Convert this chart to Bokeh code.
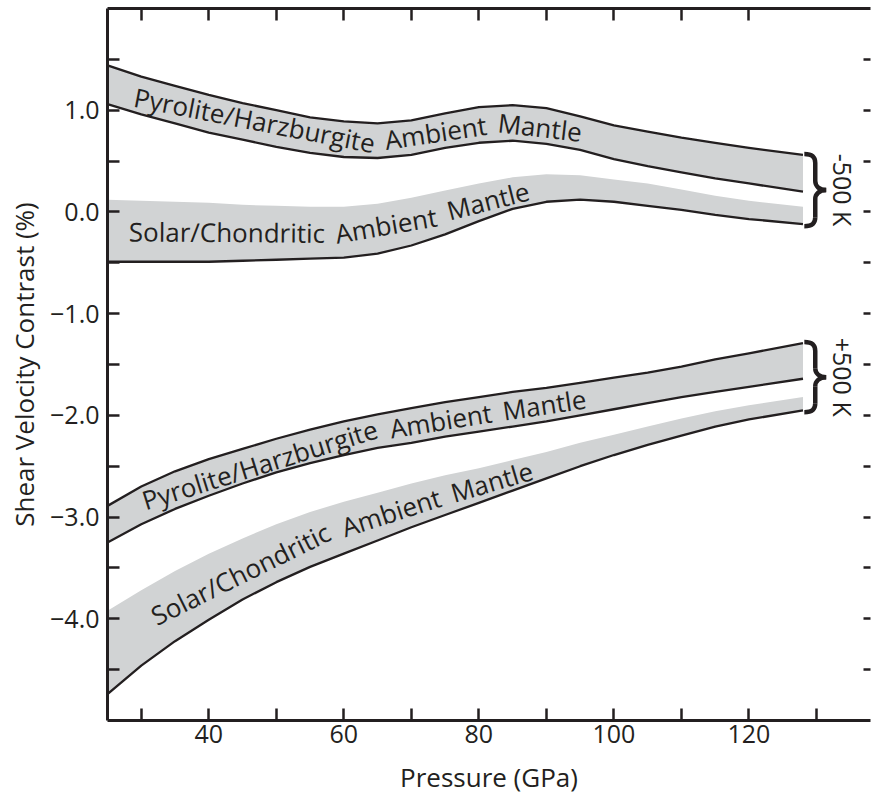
import numpy as np
from bokeh.plotting import figure
from bokeh.models import (LinearAxis, FixedTicker, CustomJSTickFormatter, Range1d,
                          ColumnDataSource, CustomLabelingPolicy)
from bokeh.embed import file_html
from bokeh.resources import INLINE
from bokeh.core.properties import value

FONT = "Open Sans"
INK = "#231f20"
GRAY = "#d1d3d4"

# ---------------- data ----------------
pressure = [25, 30, 35, 40, 45, 50, 55, 60, 65, 70, 75, 80, 85, 90, 95, 100, 105, 110, 115, 120, 128]

# -500 K, Pyrolite/Harzburgite ambient mantle
cold_pyr_upper = [1.44, 1.33, 1.24, 1.15, 1.07, 1.00, 0.93, 0.89, 0.87, 0.90, 0.97, 1.03, 1.05, 1.02, 0.94, 0.85, 0.79, 0.73, 0.68, 0.63, 0.56]
cold_pyr_lower = [1.06, 0.96, 0.87, 0.78, 0.71, 0.64, 0.58, 0.54, 0.53, 0.56, 0.63, 0.68, 0.70, 0.67, 0.61, 0.52, 0.45, 0.39, 0.33, 0.28, 0.20]
# -500 K, Solar/Chondritic ambient mantle
cold_sol_upper = [0.12, 0.11, 0.10, 0.09, 0.07, 0.06, 0.05, 0.05, 0.08, 0.14, 0.21, 0.28, 0.34, 0.37, 0.36, 0.32, 0.28, 0.22, 0.16, 0.11, 0.05]
cold_sol_lower = [-0.49, -0.49, -0.49, -0.49, -0.48, -0.47, -0.46, -0.45, -0.41, -0.33, -0.22, -0.09, 0.03, 0.10, 0.12, 0.10, 0.06, 0.02, -0.03, -0.07, -0.12]
# +500 K, Pyrolite/Harzburgite ambient mantle
hot_pyr_upper = [-2.89, -2.70, -2.55, -2.43, -2.33, -2.23, -2.14, -2.06, -1.99, -1.93, -1.87, -1.82, -1.77, -1.73, -1.68, -1.63, -1.58, -1.52, -1.45, -1.39, -1.29]
hot_pyr_lower = [-3.25, -3.07, -2.92, -2.79, -2.67, -2.56, -2.47, -2.39, -2.32, -2.27, -2.21, -2.16, -2.11, -2.06, -2.00, -1.94, -1.88, -1.82, -1.77, -1.72, -1.64]
# +500 K, Solar/Chondritic ambient mantle
hot_sol_upper = [-3.92, -3.72, -3.53, -3.36, -3.21, -3.07, -2.95, -2.85, -2.76, -2.67, -2.59, -2.52, -2.44, -2.36, -2.27, -2.19, -2.11, -2.03, -1.96, -1.90, -1.82]
hot_sol_lower = [-4.74, -4.46, -4.22, -4.01, -3.81, -3.64, -3.49, -3.36, -3.23, -3.10, -2.98, -2.86, -2.74, -2.62, -2.50, -2.39, -2.29, -2.20, -2.11, -2.04, -1.95]

x_major_ticks = [40, 60, 80, 100, 120]
x_minor_ticks = [30, 50, 70, 90, 110, 130]
x_top_ticks = [30, 40, 50, 60, 70, 80, 90, 100, 110, 120]
y_major_ticks = [-4, -3, -2, -1, 0, 1]
y_minor_ticks = [-4.5, -3.5, -2.5, -1.5, -0.5, 0.5, 1.5]
y_right_ticks = [-4.5, -4, -3.5, -3, -2.5, -2, -1.5, -1, -0.5, 0, 0.5, 1, 1.5]

pyr_words = ["Pyrolite/Harzburgite", "Ambient", "Mantle"]
sol_words = ["Solar/Chondritic", "Ambient", "Mantle"]
bracket_texts = ["-500 K", "+500 K"]

# ---------------- layout ----------------
X0, X1, Y0, Y1 = 25, 138, -5, 2
W, H = 875, 797
ML, MR, MT, MB = 107, 0, 8, 76
PX_PER_P = (W - ML - MR) / (X1 - X0)
PX_PER_Y = (H - MT - MB) / (Y1 - Y0)

p = figure(width=W, height=H, x_range=Range1d(X0, X1), y_range=Range1d(Y0, Y1),
           output_backend="svg", toolbar_location=None,
           x_axis_location=None, y_axis_location=None,
           min_border_left=ML, min_border_right=MR, min_border_top=MT, min_border_bottom=MB)
p.outline_line_color = None
p.xgrid.visible = False
p.ygrid.visible = False
p.background_fill_color = "white"


def style_axis(ax, tick_in=12):
    ax.axis_line_color = INK
    ax.axis_line_width = 3
    ax.major_tick_line_color = INK
    ax.major_tick_line_width = 2.5
    ax.minor_tick_line_color = INK
    ax.minor_tick_line_width = 2.5
    ax.major_tick_in = tick_in
    ax.major_tick_out = 0
    ax.minor_tick_in = tick_in
    ax.minor_tick_out = 0
    ax.major_label_text_font = FONT
    ax.major_label_text_font_size = "25px"
    ax.major_label_text_color = INK
    ax.axis_label_text_font = FONT
    ax.axis_label_text_font_size = "26px"
    ax.axis_label_text_font_style = "normal"
    ax.axis_label_text_color = INK


def no_labels(ax):
    ax.major_label_policy = CustomLabelingPolicy(
        code="const all = [...indices]; for (const i of all) indices.unset(i); return indices;")
    ax.major_label_text_font_size = "1px"
    ax.major_label_standoff = 0


left = LinearAxis(ticker=FixedTicker(ticks=y_major_ticks, minor_ticks=y_minor_ticks),
                  formatter=CustomJSTickFormatter(code="return (tick < 0 ? '\u2212' : '') + Math.abs(tick).toFixed(1);"),
                  axis_label="Shear Velocity Contrast (%)")
style_axis(left)
left.major_label_standoff = 8
left.axis_label_standoff = 5
p.add_layout(left, "left")

bottom = LinearAxis(ticker=FixedTicker(ticks=x_major_ticks, minor_ticks=x_minor_ticks),
                    axis_label="Pressure (GPa)")
style_axis(bottom)
bottom.major_label_standoff = 4
bottom.axis_label_standoff = 13
p.add_layout(bottom, "below")

top = LinearAxis(ticker=FixedTicker(ticks=x_top_ticks, minor_ticks=[]))
style_axis(top)
no_labels(top)
p.add_layout(top, "above")

right = LinearAxis(ticker=FixedTicker(ticks=y_right_ticks, minor_ticks=[]))
style_axis(right, tick_in=7)
right.axis_line_color = None
no_labels(right)
p.add_layout(right, "right")

# ---------------- bands ----------------
bands = [
    (cold_pyr_lower, cold_pyr_upper, True),
    (cold_sol_lower, cold_sol_upper, False),
    (hot_pyr_lower, hot_pyr_upper, True),
    (hot_sol_lower, hot_sol_upper, False),
]
for lo, hi, upper_line in bands:
    p.varea(x=pressure, y1=lo, y2=hi, fill_color=GRAY, fill_alpha=1.0)
for lo, hi, upper_line in bands:
    p.line(pressure, lo, line_color=INK, line_width=2.3, line_join="round")
    if upper_line:
        p.line(pressure, hi, line_color=INK, line_width=2.3, line_join="round")


def place_words(words, spans, lo, hi):
    P = np.array(pressure, float)
    center = (np.array(lo, float) + np.array(hi, float)) / 2
    xs, ys, angs = [], [], []
    for a, b in spans:
        ya, yb = np.interp([a, b], P, center)
        xm = (a + b) / 2
        ym = 0.5 * (np.interp(xm, P, center) + (ya + yb) / 2)
        ang = float(np.arctan2((yb - ya) * PX_PER_Y, (b - a) * PX_PER_P))
        xs.append(xm); ys.append(float(ym)); angs.append(ang)
    return dict(x=xs, y=ys, angle=angs, text=list(words))


label_sets = [
    (pyr_words, [(28.4, 65.2), (65.9, 81.3), (82.8, 95.3)], cold_pyr_lower, cold_pyr_upper),
    (sol_words, [(27.6, 57.8), (58.5, 74.0), (75.0, 87.7)], cold_sol_lower, cold_sol_upper),
    (pyr_words, [(29.9, 65.2), (65.9, 82.8), (83.3, 96.1)], hot_pyr_lower, hot_pyr_upper),
    (sol_words, [(30.9, 58.5), (59.3, 74.7), (75.5, 88.3)], hot_sol_lower, hot_sol_upper),
]
for words, spans, lo, hi in label_sets:
    src = ColumnDataSource(place_words(words, spans, lo, hi))
    p.text(x="x", y="y", text="text", angle="angle", source=src,
           text_font=value(FONT), text_font_size="26px", text_color=INK,
           text_align="center", text_baseline="middle")

# ---------------- braces ----------------
kx = 1.0 / PX_PER_P
ky = 1.0 / PX_PER_Y


def brace(x0, y_top, y_bot):
    xm = x0 + 11 * kx
    xt = x0 + 22 * kx
    ymid = (y_top + y_bot) / 2
    c = 9 * ky
    segs = [
        (x0, y_top, xm, y_top - c, x0 + 8 * kx, y_top, xm, y_top - 3 * ky),
        (xm, y_top - c, xm, ymid + c, xm, y_top - c, xm, ymid + c),
        (xm, ymid + c, xt, ymid, xm, ymid + 4 * ky, xt - 7 * kx, ymid),
        (xt, ymid, xm, ymid - c, xt - 7 * kx, ymid, xm, ymid - 4 * ky),
        (xm, ymid - c, xm, y_bot + c, xm, ymid - c, xm, y_bot + c),
        (xm, y_bot + c, x0, y_bot, xm, y_bot + 3 * ky, x0 + 8 * kx, y_bot),
    ]
    keys = ["x0", "y0", "x1", "y1", "cx0", "cy0", "cx1", "cy1"]
    return {k: [s[i] for s in segs] for i, k in enumerate(keys)}, ymid


x_end = pressure[-1]
brace_specs = [(cold_pyr_upper[-1] + 0.01, cold_sol_lower[-1] - 0.02),
               (hot_pyr_upper[-1] + 0.01, hot_sol_lower[-1] - 0.02)]
mids = []
for top_y, bot_y in brace_specs:
    d, ymid = brace(x_end + 0.2, top_y, bot_y)
    p.bezier(source=ColumnDataSource(d), x0="x0", y0="y0", x1="x1", y1="y1",
             cx0="cx0", cy0="cy0", cx1="cx1", cy1="cy1", line_color=INK, line_width=4.5)
    mids.append(ymid)

p.text(x=[x_end + 5.9] * 2, y=mids, text=bracket_texts, angle=-np.pi / 2,
       text_font=value(FONT), text_font_size="25px", text_color=INK,
       text_align="center", text_baseline="middle")

open("out.html", "w").write(file_html(p, INLINE))
